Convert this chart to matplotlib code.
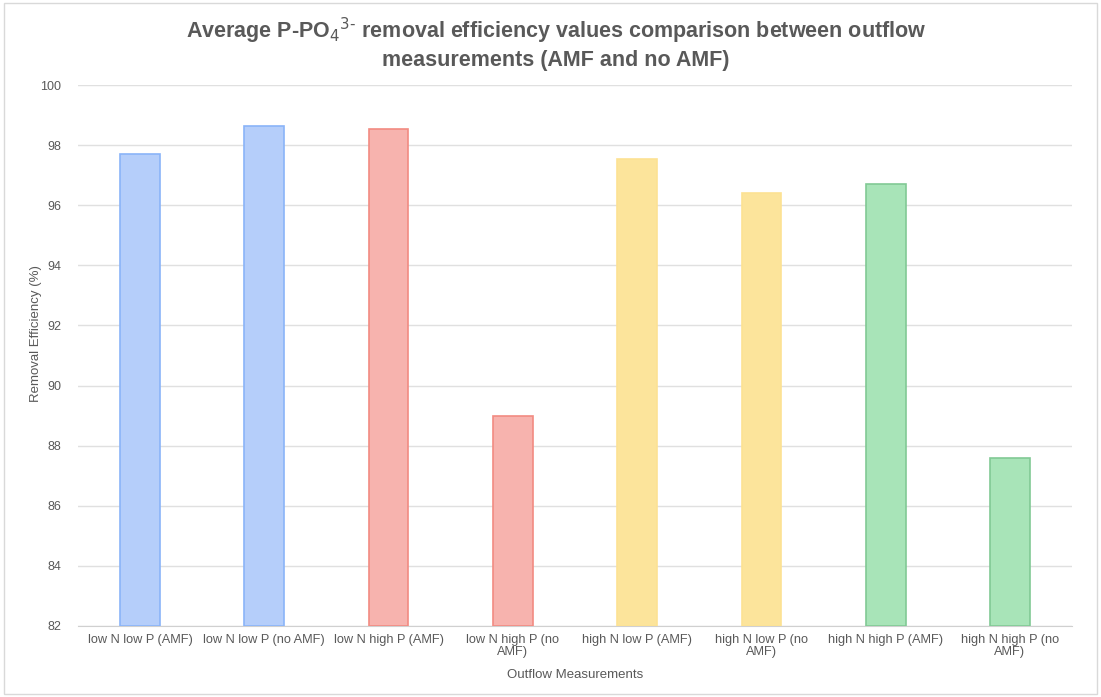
"""Average P-PO4 removal efficiency, AMF vs no AMF bar chart."""

import matplotlib
matplotlib.use("Agg")
import matplotlib.pyplot as plt
from matplotlib.patches import Rectangle

plt.rcParams["font.family"] = ["Liberation Sans", "DejaVu Sans"]

categories = [
    "low N low P (AMF)", "low N low P (no AMF)", "low N high P (AMF)",
    "low N high P (no\nAMF)", "high N low P (AMF)", "high N low P (no\nAMF)",
    "high N high P (AMF)", "high N high P (no\nAMF)",
]
efficiency = [97.72, 98.64, 98.54, 88.98, 97.55, 96.42, 96.71, 87.6]

fills = ["#b5cefa", "#b5cefa", "#f7b3ae", "#f7b3ae",
         "#fce49b", "#fce49b", "#a8e4b8", "#a8e4b8"]
edges = ["#8ab4f8", "#8ab4f8", "#f28b82", "#f28b82",
         "#fde293", "#fde293", "#81c995", "#81c995"]

GREY = "#595959"

fig = plt.figure(figsize=(11.01, 6.97), dpi=100)
ax = fig.add_axes([0.0708, 0.102, 0.9029, 0.776])

x = range(len(categories))
ax.bar(x, [v - 82 for v in efficiency], bottom=82, width=0.32,
       color=fills, edgecolor=edges, linewidth=1.2, zorder=3)

ax.set_ylim(82, 100)
ax.set_yticks(range(82, 101, 2))
ax.set_xlim(-0.5, len(categories) - 0.5)
ax.set_xticks(list(x))
ax.set_xticklabels(categories, fontsize=9.2, color=GREY, linespacing=1.0)
ax.tick_params(axis="y", labelsize=9, labelcolor=GREY, length=0, pad=12)
ax.tick_params(axis="x", length=0, pad=6)
ax.grid(axis="y", color="#e0e0e0", linewidth=1, zorder=0)
for side in ["top", "right", "left"]:
    ax.spines[side].set_visible(False)
ax.spines["bottom"].set_color("#d0d0d0")

ax.set_ylabel("Removal Efficiency (%)", fontsize=9.5, color=GREY)
ax.yaxis.set_label_coords(-0.036, 0.54)
ax.set_xlabel("Outflow Measurements", fontsize=9.5, color=GREY, labelpad=8)

fig.suptitle(r"Average P-PO$_4$$^{3\text{-}}$ removal efficiency values comparison between outflow"
             "\nmeasurements (AMF and no AMF)",
             x=0.505, y=0.978, fontsize=15.5, fontweight="bold", color=GREY,
             linespacing=1.25)

fig.patches.append(Rectangle((0.004, 0.004), 0.992, 0.992, transform=fig.transFigure,
                             fill=False, edgecolor="#d9d9d9", linewidth=1))

plt.savefig("out.png", dpi=100)
